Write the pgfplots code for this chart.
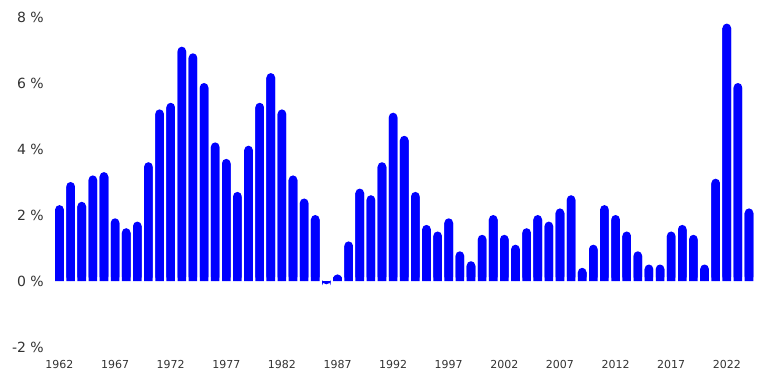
\documentclass[border=0pt]{standalone}
\usepackage{fontspec}
\setmainfont{DejaVu Sans}
\usepackage{pgfplots}
\pgfplotsset{compat=1.18}
\usepackage{pgfplotstable}
\definecolor{barblue}{HTML}{0000FF}
\definecolor{txt}{HTML}{333333}
\pgfplotstableread{
year v
1962 2.3
1963 3.0
1964 2.4
1965 3.2
1966 3.3
1967 1.9
1968 1.6
1969 1.8
1970 3.6
1971 5.2
1972 5.4
1973 7.1
1974 6.9
1975 6.0
1976 4.2
1977 3.7
1978 2.7
1979 4.1
1980 5.4
1981 6.3
1982 5.2
1983 3.2
1984 2.5
1985 2.0
1986 -0.1
1987 0.2
1988 1.2
1989 2.8
1990 2.6
1991 3.6
1992 5.1
1993 4.4
1994 2.7
1995 1.7
1996 1.5
1997 1.9
1998 0.9
1999 0.6
2000 1.4
2001 2.0
2002 1.4
2003 1.1
2004 1.6
2005 2.0
2006 1.8
2007 2.2
2008 2.6
2009 0.4
2010 1.1
2011 2.3
2012 2.0
2013 1.5
2014 0.9
2015 0.5
2016 0.5
2017 1.5
2018 1.7
2019 1.4
2020 0.5
2021 3.1
2022 7.8
2023 6.0
2024 2.2
}\data
\begin{document}
\begin{tikzpicture}
\path[use as bounding box] (-52.8pt,-31pt) rectangle (713.2pt,347pt);
\begin{axis}[
  at={(0,0)}, anchor=south west,
  scale only axis, width=702.9pt, height=330pt,
  xmin=1961.4, xmax=2024.6, ymin=-2, ymax=8,
  axis line style={draw=none}, tick style={draw=none},
  major tick length=0pt,
  /pgf/number format/assume math mode=true,
  ytick={-2,0,2,4,6,8},
  yticklabel={\pgfmathprintnumber{\tick} \%},
  yticklabel style={anchor=east, inner sep=0pt, xshift=-8.8pt, font=\fontsize{14}{14}\selectfont, text=txt},
  xtick={1962,1967,...,2022},
  xticklabel style={anchor=north, inner sep=0pt, yshift=-13pt, font=\fontsize{11}{11}\selectfont, text=txt, /pgf/number format/1000 sep={}},
  clip=false,
]
\addplot[ybar, bar width=8.6pt, bar shift=0pt, fill=barblue, draw=none, rounded corners=4.3pt] table[x=year,y=v]{\data};
\addplot[ybar, bar width=8.6pt, bar shift=0pt, fill=barblue, draw=none] table[x=year,y expr={ifthenelse(\thisrow{v}>0.3,\thisrow{v}-0.14,\thisrow{v}/2)}]{\data};
\end{axis}
\end{tikzpicture}
\end{document}
